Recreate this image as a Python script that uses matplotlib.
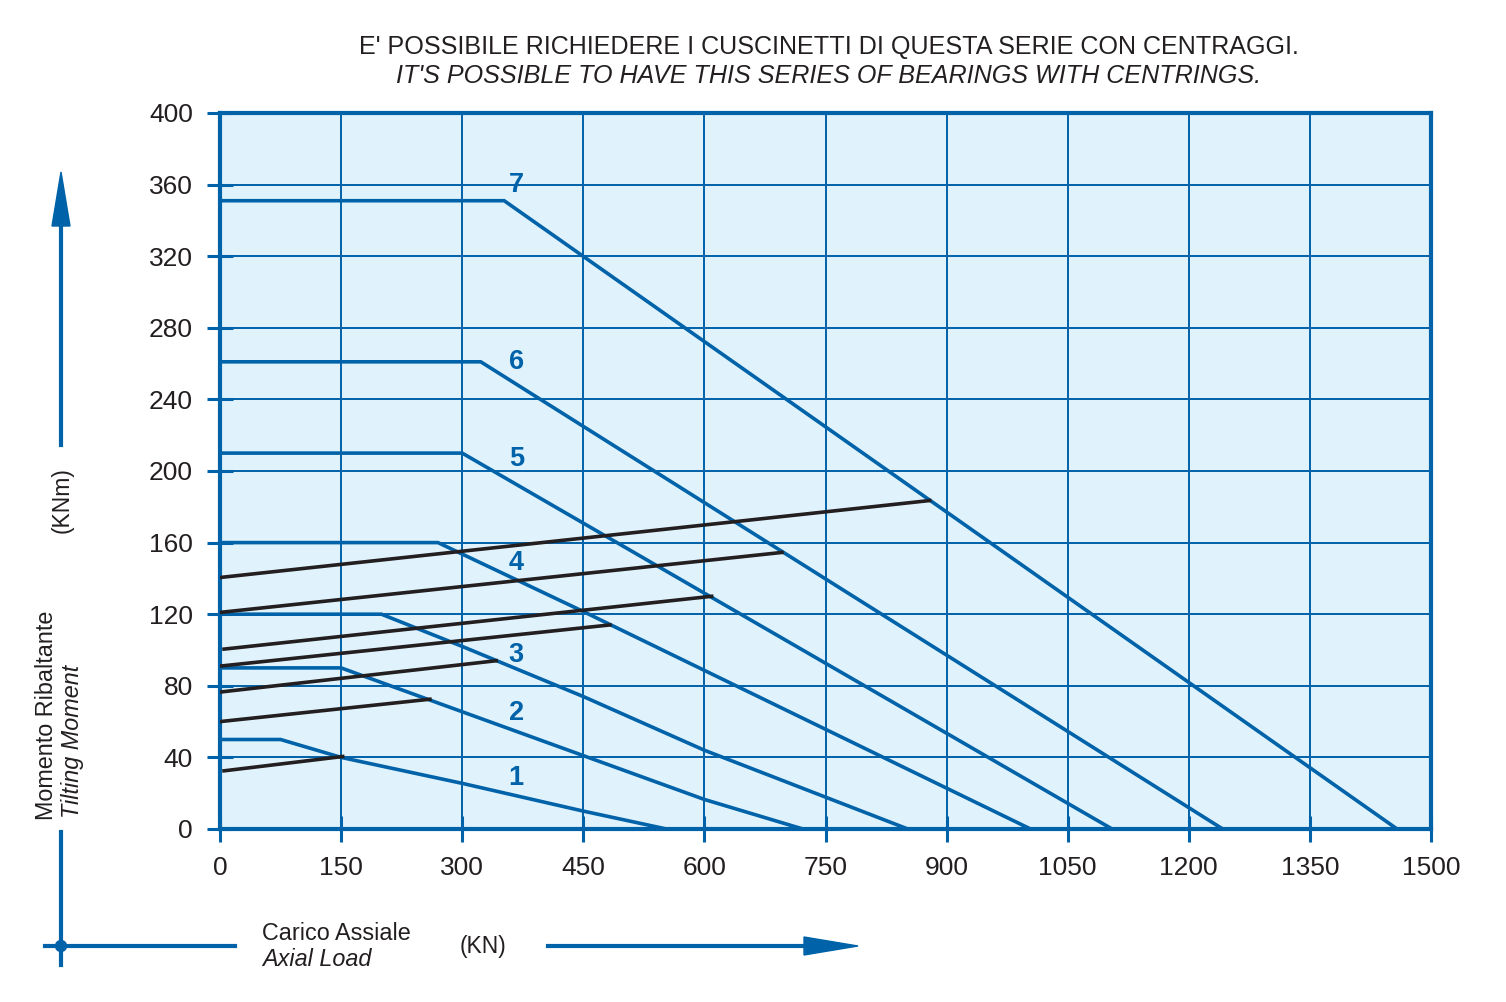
import matplotlib
matplotlib.use("Agg")
import matplotlib.pyplot as plt
from matplotlib.lines import Line2D
from matplotlib.patches import Polygon, Circle

plt.rcParams['font.family'] = ['Liberation Sans', 'DejaVu Sans']

BLUE = '#0062a8'
BLACK = '#231f20'
BG = '#e0f3fc'

# curves 1..7 : (axial load KN, tilting moment KNm)
load_1 = [0, 75, 150, 300, 450, 553]
moment_1 = [50, 50, 40, 25.5, 10, 0]
load_2 = [0, 150, 300, 450, 600, 722]
moment_2 = [90, 90, 65.5, 41, 16.5, 0]
load_3 = [0, 200, 300, 450, 600, 852]
moment_3 = [120, 120, 102, 74, 44, 0]
load_4 = [0, 270, 450, 1004]
moment_4 = [160, 160, 121.5, 0]
load_5 = [0, 300, 1105]
moment_5 = [210, 210, 0]
load_6 = [0, 323, 1242]
moment_6 = [261, 261, 0]
load_7 = [0, 352, 1458]
moment_7 = [351, 351, 0]

# black limit lines
limit_x0 = [5, 0, 0, 0, 5, 0, 0]
limit_y0 = [32.5, 60, 76.5, 91, 100.5, 121, 140.5]
limit_x1 = [152, 260, 342, 483, 609, 696, 879]
limit_y1 = [40.5, 72.5, 94, 114, 130, 154.5, 183.5]

curve_labels = ['1', '2', '3', '4', '5', '6', '7']
label_x = [367, 367, 367, 367, 367, 367, 367]
label_y = [28.5, 64.8, 97.2, 148.6, 206.7, 260.9, 359.8]

x_ticks = [0, 150, 300, 450, 600, 750, 900, 1050, 1200, 1350, 1500]
y_ticks = [0, 40, 80, 120, 160, 200, 240, 280, 320, 360, 400]

W, H = 1506, 1002
fig = plt.figure(figsize=(W / 100, H / 100), dpi=100)


def px(x, y):
    return x / W, 1 - y / H


ax = fig.add_axes([220 / W, 1 - 829 / H, 1211 / W, 716 / H])
ax.set_facecolor(BG)
ax.set_xlim(0, 1500)
ax.set_ylim(0, 400)
ax.set_xticks(x_ticks)
ax.set_yticks(y_ticks)
ax.grid(True, color=BLUE, lw=1.4, zorder=1)
ax.set_axisbelow(True)
for s in ax.spines.values():
    s.set_color(BLUE)
    s.set_linewidth(3)
ax.tick_params(direction='inout', length=19, width=2.2, color=BLUE,
               labelsize=19, labelcolor=BLACK, pad=10)
ax.tick_params(axis='x', top=False, bottom=True)
ax.tick_params(axis='y', left=True, right=False)

loads = [load_1, load_2, load_3, load_4, load_5, load_6, load_7]
moments = [moment_1, moment_2, moment_3, moment_4, moment_5, moment_6, moment_7]
for lx, my in zip(loads, moments):
    ax.plot(lx, my, color=BLUE, lw=2.6, solid_joinstyle='miter', zorder=3)

for x0, y0, x1, y1 in zip(limit_x0, limit_y0, limit_x1, limit_y1):
    ax.plot([x0, x1], [y0, y1], color=BLACK, lw=2.6, zorder=4)

for t, lx, ly in zip(curve_labels, label_x, label_y):
    ax.text(lx, ly, t, color=BLUE, fontsize=19.5, fontweight='bold',
            ha='center', va='center', zorder=5)

# titles
fig.text(*px(829, 47), "E' POSSIBILE RICHIEDERE I CUSCINETTI DI QUESTA SERIE CON CENTRAGGI.",
         ha='center', va='center', fontsize=18.1, color=BLACK)
fig.text(*px(829, 76), "IT'S POSSIBLE TO HAVE THIS SERIES OF BEARINGS WITH CENTRINGS.",
         ha='center', va='center', fontsize=18.1, color=BLACK, style='italic')

# axis captions
fig.text(*px(62, 500), "(KNm)", rotation=90, ha='center', va='center',
         fontsize=16.5, color=BLACK)
fig.text(*px(47, 820), "Momento Ribaltante", rotation=90, ha='center', va='bottom',
         fontsize=16.8, color=BLACK)
fig.text(*px(73, 818), "Tilting Moment", rotation=90, ha='center', va='bottom',
         fontsize=16.8, color=BLACK, style='italic')
fig.text(*px(262, 933), "Carico Assiale", ha='left', va='center',
         fontsize=16.8, color=BLACK)
fig.text(*px(262, 960), "Axial Load", ha='left', va='center',
         fontsize=16.8, color=BLACK, style='italic')
fig.text(*px(483, 946), "(KN)", ha='center', va='center',
         fontsize=16.5, color=BLACK)

# decorative arrows
lw_dec = 3


def fline(x0, y0, x1, y1):
    a, b = px(x0, y0)
    c, d = px(x1, y1)
    fig.add_artist(Line2D([a, c], [b, d], color=BLUE, lw=lw_dec,
                          transform=fig.transFigure))


fline(61, 445, 61, 222)
fig.add_artist(Polygon([px(61, 172), px(52, 226), px(70, 226)], closed=True,
                       color=BLUE, transform=fig.transFigure))
fline(61, 832, 61, 965)
fline(45, 946, 235, 946)
fline(548, 946, 808, 946)
fig.add_artist(Polygon([px(858, 946), px(804, 937), px(804, 955)], closed=True,
                       color=BLUE, transform=fig.transFigure))
fig.add_artist(Circle((61, H - 946), 5.5, color=BLUE, transform=None))

fig.savefig('out.png', dpi=100)
